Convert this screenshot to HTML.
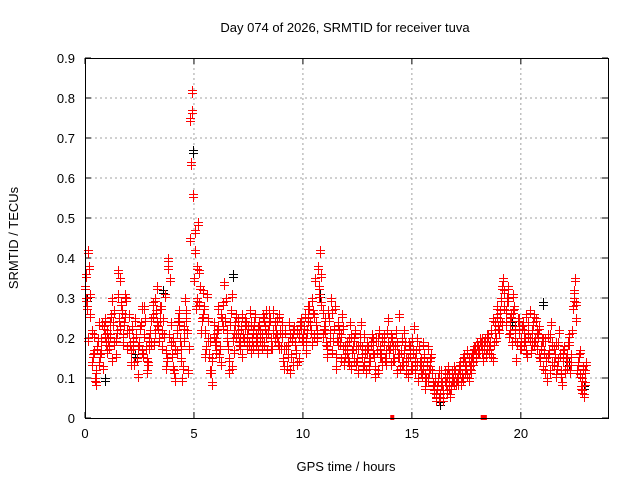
<!DOCTYPE html>
<html><head><meta charset="utf-8"><style>
body{margin:0;background:#fff}
svg text{font-family:"Liberation Sans",sans-serif;font-size:13px;fill:#000}
</style></head><body>
<svg id="c" width="640" height="480"></svg>
<script>
const xTicks=[0,5,10,15,20];
const yTicks=[0,0.1,0.2,0.3,0.4,0.5,0.6,0.7,0.8,0.9];
const startA=0.0, startB=0.05, step=0.1;
const redA=[.33,.28,.38,.22,.17,.12,.20,.16,.24,.21,
.22,.18,.26,.24,.20,.31,.35,.27,.24,.30,
.22,.17,.20,.25,.15,.19,.28,.21,.18,.14,
.22,.26,.30,.24,.20,.28,.25,.17,.40,.35,
.16,.12,.22,.27,.18,.13,.30,.22,.45,.82,
.35,.28,.49,.33,.26,.22,.31,.16,.12,.24,
.20,.28,.18,.25,.34,.22,.15,.27,.20,.24,
.22,.18,.26,.20,.24,.23,.17,.22,.26,.20,
.24,.21,.19,.27,.22,.25,.18,.24,.21,.26,
.18,.15,.22,.19,.12,.20,.23,.17,.21,.25,
.19,.26,.22,.28,.30,.21,.24,.38,.42,.27,
.22,.18,.25,.30,.20,.16,.24,.19,.26,.14,
.17,.20,.13,.18,.22,.15,.19,.16,.21,.12,
.18,.15,.20,.13,.17,.22,.16,.19,.14,.25,
.18,.20,.15,.12,.26,.17,.14,.19,.11,.16,
.13,.23,.17,.10,.15,.19,.08,.14,.12,.16,
.07,.05,.10,.06,.09,.12,.07,.11,.08,.10,
.12,.09,.14,.11,.16,.13,.10,.15,.14,.18,
.19,.17,.20,.18,.16,.21,.19,.15,.24,.26,
.22,.30,.35,.27,.33,.25,.19,.28,.15,.22,
.18,.24,.20,.16,.27,.22,.19,.25,.21,.15,
.13,.20,.10,.17,.24,.14,.11,.19,.16,.09,
.18,.13,.21,.16,.28,.35,.12,.17,.10,.06,.14];
const redB=[.30,.42,.26,.16,.10,.18,.14,.20,.23,.19,
.20,.24,.15,.27,.22,.25,.29,.21,.26,.18,
.19,.23,.14,.21,.18,.24,.16,.25,.12,.20,
.25,.19,.27,.23,.28,.22,.31,.15,.21,.19,
.13,.18,.25,.20,.10,.23,.27,.18,.64,.56,
.42,.30,.37,.25,.28,.18,.25,.20,.09,.19,
.22,.16,.26,.23,.30,.18,.24,.13,.22,.26,
.19,.23,.21,.25,.18,.27,.20,.24,.19,.23,
.20,.26,.23,.17,.24,.20,.27,.22,.19,.22,
.21,.18,.13,.24,.16,.22,.19,.14,.24,.20,
.23,.20,.25,.22,.27,.35,.20,.31,.36,.23,
.19,.27,.22,.17,.28,.20,.22,.15,.23,.18,
.15,.24,.17,.20,.14,.18,.24,.13,.17,.19,
.15,.21,.16,.20,.12,.18,.20,.15,.22,.17,
.14,.18,.22,.16,.13,.20,.17,.15,.19,.13,
.17,.12,.20,.14,.11,.16,.10,.18,.13,.09,
.10,.08,.05,.12,.07,.09,.13,.06,.12,.09,
.10,.13,.09,.15,.12,.17,.13,.16,.18,.15,
.17,.19,.15,.20,.18,.17,.22,.19,.20,.23,
.27,.24,.32,.30,.21,.26,.31,.20,.25,.18,
.23,.19,.26,.21,.17,.24,.20,.18,.23,.20,
.17,.15,.21,.12,.19,.16,.13,.22,.12,.15,
.15,.19,.12,.22,.32,.25,.16,.08,.13,.09];
const startC=0.025;
const redC=[.36,.20,.31,.14,.21,.09,.24,.17,.13,.25,
.17,.21,.30,.19,.16,.37,.23,.19,.31,.22,
.26,.14,.18,.21,.11,.23,.17,.28,.15,.18,
.19,.29,.22,.33,.25,.18,.21,.13,.38,.24,
.20,.10,.17,.24,.15,.20,.25,.12,.75,.77,
.47,.38,.29,.22,.32,.16,.20,.12,.15,.21,
.17,.23,.14,.29,.25,.20,.12,.31,.17,.21,
.25,.20,.16,.23,.21,.19,.24,.18,.21,.17,
.22,.18,.25,.21,.27,.18,.22,.20,.25,.18,
.24,.13,.18,.16,.21,.14,.19,.22,.15,.23,
.21,.17,.28,.24,.19,.26,.22,.33,.29,.21,
.25,.16,.20,.27,.23,.13,.19,.21,.18,.16,
.19,.14,.21,.15,.18,.12,.21,.18,.14,.17,
.13,.19,.17,.11,.20,.16,.14,.21,.17,.19,
.21,.15,.18,.19,.16,.14,.22,.12,.15,.18,
.20,.15,.14,.18,.12,.13,.11,.10,.15,.12,
.08,.06,.12,.09,.05,.10,.11,.08,.10,.13,
.09,.11,.12,.10,.14,.11,.15,.12,.17,.16,
.18,.20,.17,.19,.21,.18,.16,.25,.22,.28,
.25,.33,.28,.24,.30,.22,.27,.23,.19,.25,
.20,.22,.17,.24,.20,.19,.26,.22,.16,.18,
.20,.12,.16,.21,.14,.18,.19,.15,.11,.17,
.12,.16,.19,.14,.30,.29,.14,.11,.07,.12];
const blackHours=[0.1,0.9,2.3,3.6,4.95,6.8,10.8,16.3,19.6,21.0,22.2,22.9];
const blackVals=[0.30,0.10,0.16,0.32,0.67,0.36,0.31,0.04,0.24,0.29,0.14,0.08];
const zeroHours=[14.1,18.25,18.35];

const svg=document.getElementById('c');const NS='http://www.w3.org/2000/svg';
const X0=85,X1=608,Y0=418,Y1=58;
const xs=h=>X0+h*(X1-X0)/24;
const ys=v=>Y0-v*(Y0-Y1)/0.9;
function mk(t,a,p){const e=document.createElementNS(NS,t);for(const k in a)e.setAttribute(k,a[k]);(p||svg).appendChild(e);return e;}
const grid=mk('g',{});


yTicks.forEach(v=>{const y=ys(v);
 if(v>0&&v<0.9){mk('line',{x1:X0,x2:X1,y1:y,y2:y,stroke:'#a0a0a0','stroke-dasharray':'2,3'},grid);}
 mk('line',{x1:X0,x2:X0+6,y1:y,y2:y,stroke:'#000'});mk('line',{x1:X1,x2:X1-6,y1:y,y2:y,stroke:'#000'});
 const t=mk('text',{x:X0-10,y:y+5,'text-anchor':'end'});t.textContent=v===0?'0':v.toFixed(1);
 
 
});
xTicks.forEach(h=>{const x=xs(h);
 if(h>0)mk('line',{x1:x,x2:x,y1:Y1,y2:Y0,stroke:'#a0a0a0','stroke-dasharray':'2,3'},grid);
 mk('line',{x1:x,x2:x,y1:Y0,y2:Y0-6,stroke:'#000'});mk('line',{x1:x,x2:x,y1:Y1,y2:Y1+6,stroke:'#000'});
 const t=mk('text',{x:x,y:Y0+20,'text-anchor':'middle'});t.textContent=h;
 
 
});
function plus(x,y,c,g){mk('path',{d:`M${x-4.5},${y}h9M${x-4.5},${y+3}h9M${x},${y-4.5}v12`,stroke:c,'stroke-width':1,fill:'none'},g);}
const gb=mk('g',{});


blackHours.forEach((h,i)=>plus(Math.round(xs(h))+.5,Math.round(ys(blackVals[i]))+.5,'#000',gb));
const gr=mk('g',{});


redA.forEach((v,i)=>plus(Math.round(xs(startA+i*step))+.5,Math.round(ys(v))+.5,'#f00',gr));
redB.forEach((v,i)=>plus(Math.round(xs(startB+i*step))+.5,Math.round(ys(v))+.5,'#f00',gr));
redC.forEach((v,i)=>plus(Math.round(xs(startC+i*step))+.5,Math.round(ys(v))+.5,'#f00',gr));
zeroHours.forEach(h=>mk('rect',{x:xs(h)-2,y:Y0-3,width:4,height:5,fill:'#f00'},gr));
const fr=mk('rect',{x:X0+.5,y:Y1+.5,width:X1-X0,height:Y0-Y1,fill:'none',stroke:'#000'});


let t=mk('text',{x:345,y:32,'text-anchor':'middle'});t.textContent='Day 074 of 2026, SRMTID for receiver tuva';


t=mk('text',{x:346,y:471,'text-anchor':'middle'});t.textContent='GPS time / hours';


t=mk('text',{x:18,y:238,'text-anchor':'middle',transform:'rotate(-90 18 238)'});t.textContent='SRMTID / TECUs';


</script>
</body></html>
